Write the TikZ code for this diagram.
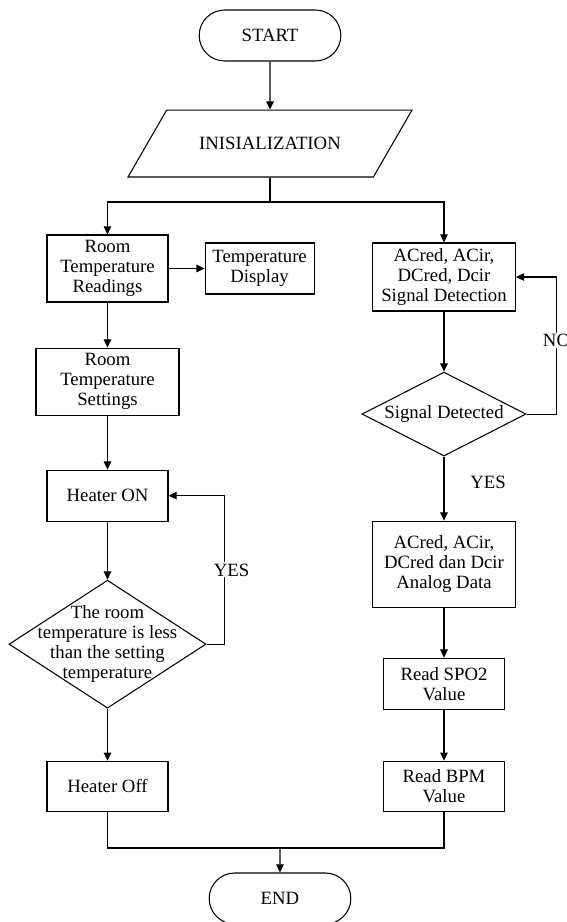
\documentclass[tikz,border=0pt]{standalone}
\usepackage{fontspec}
\setmainfont{Liberation Serif}
\usepackage{tikz}
\usetikzlibrary{arrows.meta,positioning,shapes.geometric,shapes.misc}

\begin{document}
\begin{tikzpicture}[
  x=0.03cm, y=-0.03cm,
  node distance=1.5cm,
  every node/.style={font=\fontsize{16}{17.1}\selectfont},
  box/.style={draw, line width=0.9pt, align=center, inner sep=1pt,
    minimum width=3.63cm, minimum height=1.53cm},
  wide/.style={box, minimum width=4.29cm},
  term/.style={box, rounded rectangle, minimum width=4.32cm},
  io/.style={box, trapezium, trapezium left angle=60, trapezium right angle=120,
    trapezium stretches body, inner ysep=23.2pt, minimum width=8.52cm},
  decision/.style={draw, line width=0.9pt, diamond, inner sep=0pt},
  arr/.style={-{Triangle[length=7pt, width=6.5pt]}, line width=0.9pt},
  lab/.style={fill=white, inner sep=1pt}
]
  \useasboundingbox (0,0) rectangle (567,922);

  \node[term] (start) at (270,35.5) {START};
  \node[io, below=1.44cm of start] (init) {INISIALIZATION};
  \coordinate (split) at (init.south |- 0,202);

  % heater column
  \node[box, minimum height=2.01cm] (read) at (107.5,268.5) {Room\\Temperature\\Readings};
  \node[box, minimum width=3.27cm, right=1.08cm of read] (disp) {Temperature\\Display};
  \node[wide, minimum height=2.01cm, below=1.35cm of read] (setroom) {Room\\Temperature\\Settings};
  \node[box, below=1.62cm of setroom] (heaton) {Heater ON};
  \node[decision, minimum width=5.91cm, minimum height=3.84cm, below=1.74cm of heaton,
    label={[align=center]center:The room\\temperature is less\\than the setting\\temperature}] (cmp) {};
  \node[box, minimum height=1.5cm, below=1.56cm of cmp] (heatoff) {Heater Off};

  % sensor column
  \node[wide, minimum height=2.04cm] (detect) at (444,277) {ACred, ACir,\\DCred, Dcir\\Signal Detection};
  \node[decision, minimum width=4.92cm, minimum height=2.52cm, below=1.8cm of detect,
    label={center:Signal Detected}] (sigdet) {};
  \node[wide, minimum height=2.58cm, below=1.92cm of sigdet] (analog) {ACred, ACir,\\DCred dan Dcir\\Analog Data};
  \node[box, below=1.5cm of analog] (spo2) {Read SPO2\\Value};
  \node[box, minimum height=1.5cm, below=1.53cm of spo2] (bpm) {Read BPM\\Value};

  \node[term] (end) at (280,898.5) {END};
  \coordinate (join) at (280,848);

  \draw[arr] (start) -- (init);
  \draw[arr] (init.south) -- (split) -| (read.north);
  \draw[arr] (split) -| (detect.north);

  \draw[arr] (read) -- (disp);
  \draw[arr] (read) -- (setroom);
  \draw[arr] (setroom) -- (heaton);
  \draw[arr] (heaton) -- (cmp);
  \draw[arr] (cmp) -- (heatoff);
  \draw[arr] (cmp.east) -- ++(18,0) |-
    node[lab, pos=0.25, xshift=0.21cm]{YES} (heaton.east);

  \draw[arr] (detect) -- (sigdet);
  \draw[arr] (sigdet) -- node[pos=0.4, xshift=1.32cm]{YES} (analog);
  \draw[arr] (sigdet.east) -- ++(30,0) |-
    node[lab, pos=0.27]{NO} (detect.east);
  \draw[arr] (analog) -- (spo2);
  \draw[arr] (spo2) -- (bpm);

  \draw[line width=0.9pt] (heatoff) |- (join) -| (bpm);
  \draw[arr] (join) -- (end);
\end{tikzpicture}
\end{document}
